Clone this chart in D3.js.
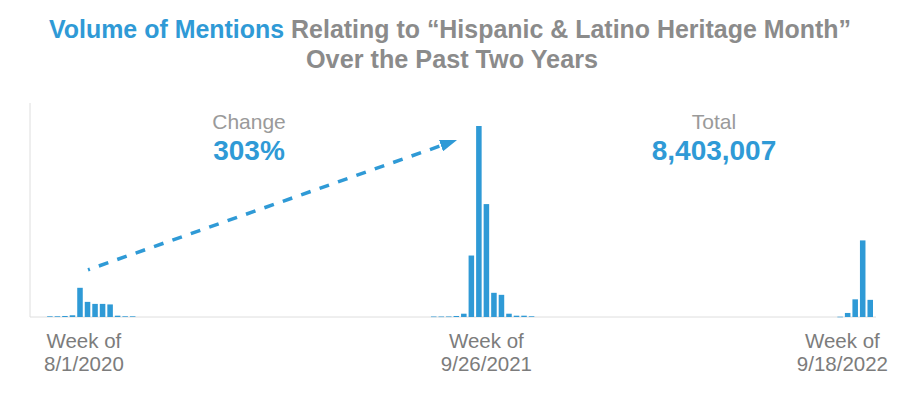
<!DOCTYPE html>
<html>
<head>
<meta charset="utf-8">
<script src="https://cdn.jsdelivr.net/npm/d3@7"></script>
<style>
  body { margin: 0; background: #fff; }
  svg { display: block; }
</style>
</head>
<body>
<svg id="chart" width="900" height="394"></svg>
<script>
// weekly mention counts, three bursts around Heritage Month
let burst2020Start = "2020-08-16";
let burst2020 = [9000, 9500, 13500, 23000, 390000, 202000, 175000, 175000, 168000, 17500, 9500, 9000];
let burst2021Start = "2021-08-08";
let burst2021 = [6500, 6500, 7000, 13500, 44000, 821000, 2551000, 1508000, 323000, 296000, 44000, 17500, 17500, 9500];
let burst2022Start = "2022-08-21";
let burst2022 = [4000, 54000, 236000, 1023000, 229000];

let tickDates = ["2020-08-01", "2021-09-26", "2022-09-18"];
let tickLabels = ["8/1/2020", "9/26/2021", "9/18/2022"];

let changeText = "303%";
let totalText = "8,403,007";

let blue = "#2f9ad6";
let titleGrey = "#8b8b8b";
let labelGrey = "#7c7c7c";
let font = "'Liberation Sans', Arial, sans-serif";

let svg = d3.select("#chart");
let parse = d3.utcParse("%Y-%m-%d");

function toWeeks(start, vals) {
  let s = parse(start);
  return vals.map((v, i) => ({ date: d3.utcWeek.offset(s, i), value: v }));
}
let data = [].concat(
  toWeeks(burst2020Start, burst2020),
  toWeeks(burst2021Start, burst2021),
  toWeeks(burst2022Start, burst2022)
);

let left = 30, right = 874, baseY = 317, topY = 126;

let x = d3.scaleUtc()
  .domain([parse("2020-08-01"), parse("2022-09-25")])
  .range([left, right]);
let y = d3.scaleLinear()
  .domain([0, d3.max(data, d => d.value)])
  .range([baseY, topY]);

// title
let title = svg.append("text")
  .attr("x", 450)
  .attr("y", 38)
  .attr("text-anchor", "middle")
  .style("font-family", font)
  .style("font-weight", "bold")
  .style("font-size", "26px")
  .attr("textLength", 802)
  .attr("lengthAdjust", "spacingAndGlyphs");
title.append("tspan").attr("fill", blue).text("Volume of Mentions");
title.append("tspan").attr("fill", titleGrey).text(" Relating to \u201cHispanic & Latino Heritage Month\u201d");

svg.append("text")
  .attr("x", 452)
  .attr("y", 68)
  .attr("text-anchor", "middle")
  .attr("fill", titleGrey)
  .style("font-family", font)
  .style("font-weight", "bold")
  .style("font-size", "26px")
  .attr("textLength", 292)
  .attr("lengthAdjust", "spacingAndGlyphs")
  .text("Over the Past Two Years");

// axis lines
svg.append("line")
  .attr("x1", left).attr("x2", left)
  .attr("y1", 103).attr("y2", baseY)
  .attr("stroke", "#dedede").attr("stroke-width", 1);
svg.append("line")
  .attr("x1", left).attr("x2", right + 2)
  .attr("y1", baseY).attr("y2", baseY)
  .attr("stroke", "#dedede").attr("stroke-width", 1);

// bars
svg.selectAll(".bar")
  .data(data)
  .enter()
  .append("rect")
  .attr("class", "bar")
  .attr("x", d => x(d.date) + 1)
  .attr("width", d => x(d3.utcWeek.offset(d.date, 1)) - x(d.date) - 2)
  .attr("y", d => y(d.value))
  .attr("height", d => Math.max(0.6, baseY - y(d.value)))
  .attr("fill", blue);

// tick labels, kept inside the chart edges
let ticks = svg.append("g");
tickDates.forEach((t, i) => {
  let d = parse(t);
  let cx = (x(d) + x(d3.utcWeek.offset(d, 1))) / 2;
  let g = ticks.append("g");
  let t1 = g.append("text").attr("y", 348).text("Week of");
  let t2 = g.append("text").attr("y", 371).text(tickLabels[i]);
  g.selectAll("text")
    .attr("text-anchor", "middle")
    .attr("fill", labelGrey)
    .style("font-family", font)
    .style("font-size", "20.5px");
  let w = Math.max(t1.node().getComputedTextLength(), t2.node().getComputedTextLength());
  cx = Math.max(44 + w / 2, Math.min(888 - w / 2, cx));
  g.selectAll("text").attr("x", cx);
});

// dashed arrow from the 2020 peak to the 2021 peak
let peak1 = toWeeks(burst2020Start, burst2020).reduce((a, b) => b.value > a.value ? b : a);
let peak2 = toWeeks(burst2021Start, burst2021).reduce((a, b) => b.value > a.value ? b : a);
let bw = x(d3.utcWeek.offset(peak1.date, 1)) - x(peak1.date);

svg.append("defs").append("marker")
  .attr("id", "head")
  .attr("markerUnits", "userSpaceOnUse")
  .attr("markerWidth", 18).attr("markerHeight", 12)
  .attr("refX", 2).attr("refY", 6)
  .attr("orient", "auto")
  .append("path")
  .attr("d", "M0,0 L17,6 L0,12 Z")
  .attr("fill", blue);

let x1 = x(peak1.date) + bw / 2 + 8, y1 = y(peak1.value) - 18;
let x2 = x(peak2.date) + bw / 2 - 36, y2 = y(peak2.value) + 19;
svg.append("line")
  .attr("x1", x1).attr("y1", y1)
  .attr("x2", x2).attr("y2", y2)
  .attr("stroke", blue)
  .attr("stroke-width", 3.5)
  .attr("stroke-dasharray", "10 9.5")
  .attr("stroke-dashoffset", 8)
  .attr("marker-end", "url(#head)");

// callouts
function callout(cx, label, value) {
  svg.append("text")
    .attr("x", cx).attr("y", 129)
    .attr("text-anchor", "middle")
    .attr("fill", "#9a9a9a")
    .style("font-family", font)
    .style("font-size", "21px")
    .text(label);
  svg.append("text")
    .attr("x", cx).attr("y", 160)
    .attr("text-anchor", "middle")
    .attr("fill", blue)
    .style("font-family", font)
    .style("font-weight", "bold")
    .style("font-size", "28px")
    .text(value);
}
callout(249, "Change", changeText);
callout(714, "Total", totalText);
</script>
</body>
</html>
